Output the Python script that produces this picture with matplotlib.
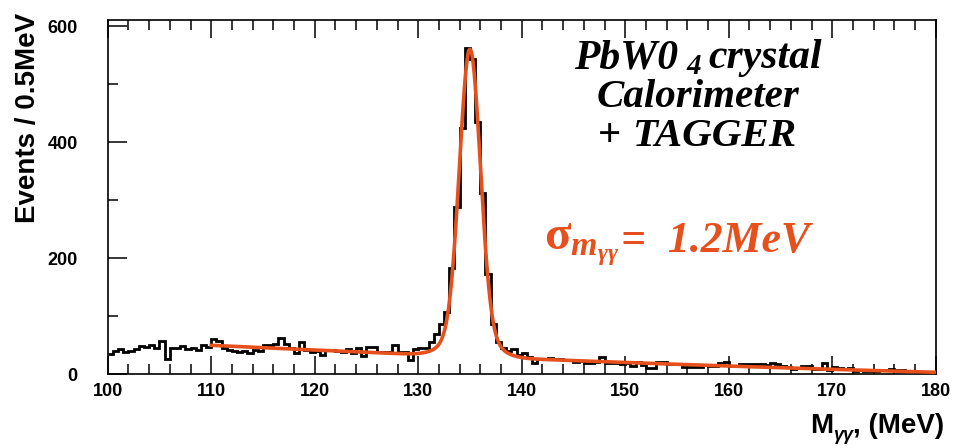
import numpy as np
import matplotlib
matplotlib.use("Agg")
import matplotlib.pyplot as plt
from matplotlib.transforms import IdentityTransform
from matplotlib.ticker import MultipleLocator

# Two-photon invariant mass spectrum, 0.5 MeV bins from 100 to 180 MeV
MASS_MIN, MASS_MAX, BIN_WIDTH = 100.0, 180.0, 0.5
COUNTS = [
    35, 40, 43, 39, 40, 43, 49, 47, 50, 46, 57, 27, 46, 45, 48, 43, 45, 42, 50, 47,      # 100-110
    61, 57, 45, 42, 40, 39, 40, 36, 42, 40, 51, 51, 53, 62, 53, 45, 36, 55, 42, 39,      # 110-120
    41, 33, 42, 42, 41, 39, 43, 37, 46, 32, 47, 47, 39, 39, 38, 50, 39, 39, 25, 43,      # 120-130
    45, 46, 55, 70, 87, 108, 184, 289, 424, 562, 543, 435, 312, 173, 87, 56, 46, 40, 43, 33,  # 130-140
    36, 29, 20, 26, 27, 28, 27, 26, 25, 24, 22, 23, 19, 20, 21, 29, 19, 19, 20, 18,      # 140-150
    19, 14, 21, 16, 11, 11, 21, 21, 18, 18, 17, 12, 12, 12, 13, 16, 14, 14, 19, 21,      # 150-160
    14, 14, 18, 18, 18, 18, 18, 16, 19, 17, 14, 12, 10, 11, 14, 14, 10, 10, 20, 8,       # 160-170
    13, 11, 10, 11, 6, 8, 6, 5, 6, 7, 7, 10, 7, 7, 5, 5, 3, 3, 3, 4,                     # 170-180
]

# Fit: pi0 line shape (core + wide tail, combined width SIGMA) on a quadratic background
FIT_RANGE = (110.0, 180.0)
PEAK_MASS = 135.0
SIGMA = 1.2
PEAK_HEIGHT = 530.0
CORE_FRACTION = 0.85
TAIL_WIDTH_RATIO = 2.0
BKG_ORIGIN = 110.0
BKG_COEFFS = [50.0, -0.84, 0.0025]

Y_TICKS = [0, 200, 400, 600]
X_TICKS = [100, 110, 120, 130, 140, 150, 160, 170, 180]

FIT_COLOR = "#E5501D"
W, H = 956, 448

plt.rcParams["font.family"] = ["Liberation Sans", "DejaVu Sans"]
plt.rcParams["mathtext.fontset"] = "custom"
plt.rcParams["mathtext.it"] = "Liberation Serif:italic:bold"
plt.rcParams["mathtext.rm"] = "Liberation Serif:bold"
plt.rcParams["mathtext.bf"] = "Liberation Serif:bold"


def line_shape(m):
    f, r = CORE_FRACTION, TAIL_WIDTH_RATIO
    s1 = SIGMA / np.sqrt(f + (1 - f) * r ** 2)
    s2 = r * s1
    core = f / s1 * np.exp(-0.5 * ((m - PEAK_MASS) / s1) ** 2)
    tail = (1 - f) / s2 * np.exp(-0.5 * ((m - PEAK_MASS) / s2) ** 2)
    return (core + tail) / (f / s1 + (1 - f) / s2)


def fit_curve(m):
    t = m - BKG_ORIGIN
    bkg = sum(c * t ** k for k, c in enumerate(BKG_COEFFS))
    return bkg + PEAK_HEIGHT * line_shape(m)


fig = plt.figure(figsize=(W / 100, H / 100), dpi=100)
ax_l, ax_r, ax_t, ax_b = 107.7, 935.7, 20.0, 374.3
ax = fig.add_axes([ax_l / W, 1 - ax_b / H, (ax_r - ax_l) / W, (ax_b - ax_t) / H])

edges = np.arange(MASS_MIN, MASS_MAX + BIN_WIDTH / 2, BIN_WIDTH)
ax.stairs(COUNTS, edges, color="black", linewidth=2.0, baseline=None, zorder=2)

m = np.linspace(FIT_RANGE[0], FIT_RANGE[1], 1200)
ax.plot(m, fit_curve(m), color=FIT_COLOR, linewidth=2.6, zorder=3)

ax.set_xlim(MASS_MIN, MASS_MAX)
ax.set_ylim(0, 611)
ax.set_xticks(X_TICKS)
ax.set_yticks(Y_TICKS)
ax.xaxis.set_minor_locator(MultipleLocator(2))
ax.yaxis.set_minor_locator(MultipleLocator(100))
ax.tick_params(axis="x", which="both", direction="in", top=True, bottom=True,
               labelsize=13, pad=6, width=1.1)
ax.tick_params(axis="x", which="major", length=13)
ax.tick_params(axis="x", which="minor", length=7)
ax.tick_params(axis="y", which="both", direction="in", left=True, right=False,
               labelsize=13, pad=21.5, width=1.1)
ax.tick_params(axis="y", which="major", length=14)
ax.tick_params(axis="y", which="minor", length=7)
for lab in ax.get_xticklabels() + ax.get_yticklabels():
    lab.set_fontweight("bold")
for sp in ax.spines.values():
    sp.set_linewidth(1.2)

renderer = fig.canvas.get_renderer()


def put(x, y, s, size, props):
    """Left-aligned text with its baseline at pixel (x, y), measured from the top-left."""
    return fig.text(x, H - y, s, fontsize=size, transform=IdentityTransform(),
                    ha="left", va="baseline", **props)


def text_run(x, y, pieces, align="center"):
    """Lay out text pieces side by side; y is the baseline in pixels from the top."""
    placed = []
    cursor = 0.0
    for s, size, props, dy, gap in pieces:
        cursor += gap
        t = put(0, 0, s, size, props)
        w = t.get_window_extent(renderer).width
        placed.append((t, cursor, dy))
        cursor += w
    shift = {"left": 0.0, "center": -cursor / 2, "right": -cursor}[align]
    for t, cx, dy in placed:
        t.set_position((x + shift + cx, H - (y + dy)))


serif_bi = dict(family=["Liberation Serif", "DejaVu Serif"], weight="bold", style="italic")
serif_b = dict(family=["Liberation Serif", "DejaVu Serif"], weight="bold")
sans_b = dict(family=["Liberation Sans", "DejaVu Sans"], weight="bold")
sans_bi = dict(family=["Liberation Sans", "DejaVu Sans"], weight="bold", style="italic")

# Detector description
put(574, 68, "PbW0", 30, serif_bi)
put(686, 74, "4", 21, serif_bi)
put(708, 68, "crystal", 30, serif_bi)
text_run(698, 107, [("Calorimeter", 29.5, serif_bi, 0, 0)])
text_run(697, 146, [("+ ", 29.5, serif_b, 0, 0),
                    ("TAGGER", 29.5, serif_bi, 0, 0)])

# Mass resolution from the fit
red_bi = dict(serif_bi, color=FIT_COLOR)
red_b = dict(serif_b, color=FIT_COLOR)
put(544, 250, r"$\mathrm{\sigma}_{m_{\gamma\gamma}}$", 35, red_b)
put(621, 252, f"=  {SIGMA:.1f}MeV", 31.5, red_bi)

# Axis titles
fig.text(28 / W, 1 - 13 / H, "Events / 0.5MeV", rotation=90, ha="center", va="top",
         fontsize=20, fontweight="bold")
text_run(944, 433, [("M", 20, sans_b, 0, 0),
                    ("γγ", 13, sans_bi, 7, 0),
                    (", (MeV)", 20, sans_b, 0, 0)], align="right")

fig.savefig("out.png", dpi=100)
